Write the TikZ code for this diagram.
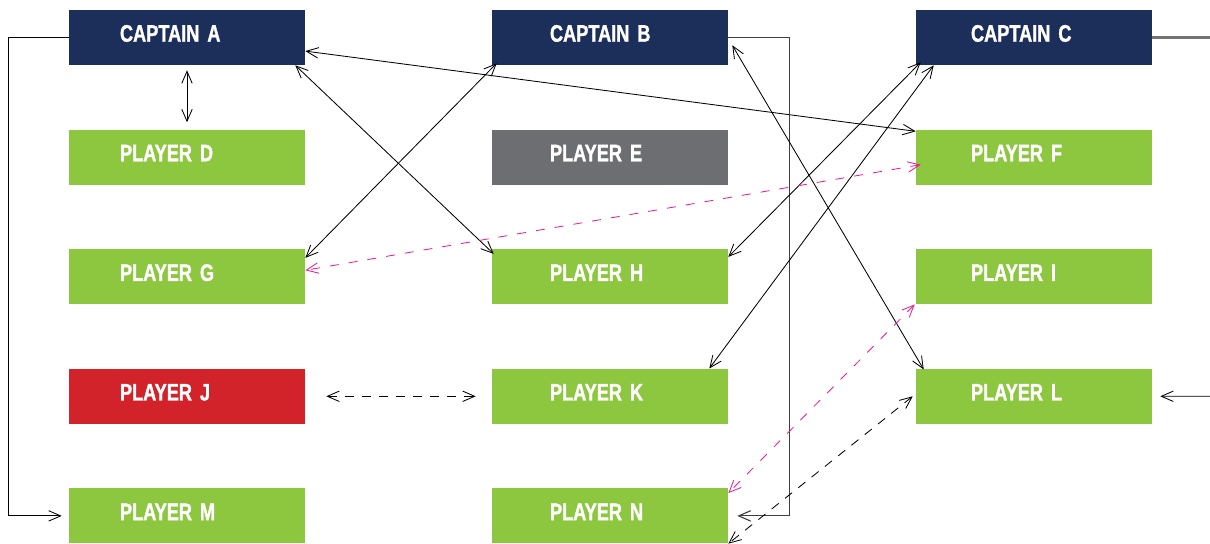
\documentclass[tikz,border=0pt]{standalone}
\usepackage{fontspec}
\usetikzlibrary{arrows.meta}
\newfontfamily\boxfont{Liberation Sans}[FakeStretch=0.76, BoldFeatures={FakeBold=1.3}]
\definecolor{navy}{RGB}{28,46,90}
\definecolor{leaf}{RGB}{141,198,63}
\definecolor{slate}{RGB}{109,110,113}
\definecolor{alert}{RGB}{210,35,42}
\definecolor{linkpink}{RGB}{236,30,140}
\tikzstyle{captain} = [rectangle, minimum width=5.9cm, minimum height=1.375cm, text width=3.35cm, inner xsep=1.275cm, inner ysep=0pt, align=left, text height=0.43cm, text depth=0.22cm, font=\boxfont\bfseries\fontsize{17}{17}\selectfont, text=white, fill=navy]
\tikzstyle{player} = [captain, fill=leaf]
\tikzstyle{midcol} = [text width=3.0cm, inner xsep=1.45cm]
\tikzstyle{rightcol} = [text width=3.15cm, inner xsep=1.375cm]
\tikzstyle{arrow} = [line width=0.6pt, <->, >={Straight Barb[length=3mm,width=2.6mm]}]
\tikzstyle{link} = [arrow, dash pattern=on 2.25mm off 2mm]
\tikzstyle{pinklink} = [link, draw=linkpink, dash pattern=on 2.25mm off 2.5mm]
\begin{document}
\begin{tikzpicture}[node distance=2.99cm]
	\useasboundingbox (0,0) rectangle (30.25,13.6);
	\node(capA)[captain] at (4.675,12.6625) {CAPTAIN A};
	\node(capB)[captain, midcol, node distance=10.575cm, right of=capA] {CAPTAIN B};
	\node(capC)[captain, rightcol, node distance=10.6cm, right of=capB] {CAPTAIN C};
	\node(pD)[player, below of=capA] {PLAYER D};
	\node(pG)[player, below of=pD] {PLAYER G};
	\node(pJ)[player, below of=pG, fill=alert] {PLAYER J};
	\node(pM)[player, below of=pJ] {PLAYER M};
	\node(pE)[player, midcol, below of=capB, fill=slate] {PLAYER E};
	\node(pH)[player, midcol, below of=pE] {PLAYER H};
	\node(pK)[player, midcol, below of=pH] {PLAYER K};
	\node(pN)[player, midcol, below of=pK] {PLAYER N};
	\node(pF)[player, rightcol, below of=capC] {PLAYER F};
	\node(pI)[player, rightcol, below of=pF] {PLAYER I};
	\node(pL)[player, rightcol, below of=pI] {PLAYER L};
	\coordinate(outC) at (30.25,12.7);
	\coordinate(inL) at (30.25,3.6925);
	% captains
	\draw [arrow, ->] (capA.west) -- ++(-1.5,0) |- ([xshift=-1.75mm]pM.west);
	\draw [arrow] ([yshift=-1.25mm]capA.south) -- ([yshift=1.75mm]pD.north);
	\draw [arrow] ([yshift=-3.4mm]capA.east) -- ([yshift=-0.5mm]pF.north west);
	\draw [arrow] ([xshift=-2.5mm]capA.south east) -- ([shift={(0.5mm,-1.25mm)}]pH.north west);
	\draw [arrow] ([shift={(1.25mm,0.5mm)}]capB.south west) -- ([yshift=-2.25mm]pG.north east);
	\draw [arrow, ->, draw=black!75, line width=0.8pt] (capB.east) -- ++(1.525,0) |- ([xshift=2.25mm]pN.east);
	\draw [arrow] ([shift={(1mm,5mm)}]capB.south east) -- ([shift={(2mm,-0.25mm)}]pL.north west);
	\draw [arrow] ([shift={(1.25mm,0.75mm)}]capC.south west) -- ([yshift=-2mm]pH.north east);
	\draw [arrow] ([xshift=4.5mm]capC.south west) -- ([xshift=-4.75mm]pK.north east);
	\draw [draw=black!55, line width=1.5pt] (capC.east) -- (capC.east -| outC);
	\draw [arrow, <-] ([xshift=2mm]pL.east) -- (inL);
	% players
	\draw [pinklink] ([shift={(1.25mm,-1.9mm)}]pF.west) -- ([yshift=1.6mm]pG.east);
	\draw [link] ([xshift=5.25mm]pJ.east) -- ([xshift=-4mm]pK.west);
	\draw [pinklink] ([xshift=-0.25mm]pI.south west) -- ([yshift=-1.25mm]pN.north east);
	\draw [link] ([xshift=-0.75mm]pL.west) -- (pN.south east);
\end{tikzpicture}
\end{document}
